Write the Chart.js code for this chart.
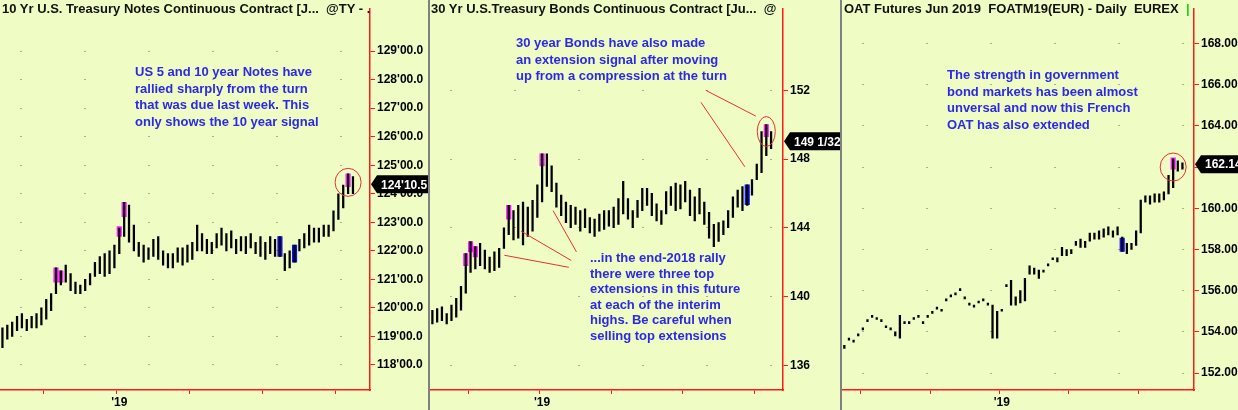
<!DOCTYPE html>
<html>
<head>
<meta charset="utf-8">
<script src="https://cdn.jsdelivr.net/npm/chart.js@4.4.1/dist/chart.umd.min.js"></script>
<style>
  body { margin: 0; background: #808080; width: 1238px; height: 410px; overflow: hidden; position: relative; font-family: "Liberation Sans", Arial, sans-serif; }
  .panel { position: absolute; top: 0; height: 410px; background: #effcc4; }
  .title { position: absolute; top: 1px; left: 2px; font-weight: bold; font-size: 13px; color: #111; white-space: nowrap; }
  .note { position: absolute; color: #2a2ae6; font-weight: bold; font-size: 13px; line-height: 16.5px; white-space: nowrap; }
</style>
</head>
<body>
<div class="panel" style="left:0;width:428px"><canvas id="c1"></canvas>
  <div class="title">10 Yr U.S. Treasury Notes Continuous Contract [J...&nbsp; @TY - .</div>
  <div class="note" style="left:135px;top:64px">US 5 and 10 year Notes have<br>rallied sharply from the turn<br>that was due last week. This<br>only shows the 10 year signal</div>
</div>
<div class="panel" style="left:430px;width:410px"><canvas id="c2"></canvas>
  <div class="title" style="left:1px">30 Yr U.S.Treasury Bonds Continuous Contract [Ju...&nbsp; @</div>
  <div class="note" style="left:86px;top:35px">30 year Bonds have also made<br>an extension signal after moving<br>up from a compression at the turn</div>
  <div class="note" style="left:160px;top:250px;line-height:15.5px">...in the end-2018 rally<br>there were three top<br>extensions in this future<br>at each of the interim<br>highs. Be careful when<br>selling top extensions</div>
</div>
<div class="panel" style="left:842px;width:396px"><canvas id="c3"></canvas>
  <div class="title">OAT Futures Jun 2019&nbsp; FOATM19(EUR) - Daily&nbsp; EUREX&nbsp; <span style="color:#2c2">|</span></div>
  <div class="note" style="left:105px;top:67px">The strength in government<br>bond markets has been almost<br>unversal and now this French<br>OAT has also extended</div>
</div>
<script>
// 10 yr notes: high / low per bar
const tyHigh = [119.3,119.4,119.5,119.7,119.8,119.6,119.7,119.8,120.0,120.3,120.5,121.4,121.3,121.5,121.2,120.9,120.8,121.0,121.2,121.6,121.8,121.9,122.0,122.2,122.8,123.7,123.6,122.9,122.3,122.2,122.1,122.4,122.5,122.0,121.9,121.9,122.1,122.1,122.2,122.3,122.9,122.6,122.4,122.3,122.6,122.8,122.6,122.7,122.4,122.5,122.5,122.6,122.3,122.5,122.3,122.5,122.4,122.5,121.9,122.0,122.2,122.4,122.6,122.9,122.8,122.8,122.9,122.9,123.4,124.0,124.3,124.7,124.6];
const tyLow  = [118.6,118.9,119.0,119.2,119.3,119.2,119.3,119.3,119.4,119.6,119.9,120.5,120.8,120.9,120.6,120.5,120.5,120.6,120.8,121.1,121.2,121.1,121.2,121.4,121.9,122.5,122.3,122.0,121.8,121.6,121.7,121.8,121.7,121.5,121.4,121.4,121.6,121.5,121.6,121.7,122.0,122.0,121.9,121.9,122.1,122.2,122.0,122.1,121.9,122.0,121.9,122.1,121.9,121.8,121.7,121.9,121.8,121.8,121.3,121.4,121.6,122.0,122.1,122.2,122.3,122.3,122.5,122.5,122.7,123.1,123.5,124.0,124.0];
const tySignals = { 11: [120.9,121.4,"pink"], 12: [120.9,121.3,"pink"], 24: [122.5,122.85,"pink"], 25: [123.2,123.7,"pink"], 57: [121.8,122.5,"blue"], 60: [121.6,122.2,"blue"], 71: [124.25,124.7,"pink"] };
const tyLast = 124.33;
const tyTicks = [118,119,120,121,122,123,124,125,126,127,128,129];

// 30 yr bonds
const usHigh = [139.2,139.3,139.4,139.0,139.5,139.9,140.6,142.5,143.2,142.9,143.1,142.7,142.3,142.6,142.8,144.0,145.3,145.0,145.3,145.5,145.2,145.6,146.5,148.3,148.3,147.6,146.6,145.9,145.5,145.3,145.2,145.0,145.1,144.6,144.5,144.8,145.0,145.0,145.2,145.7,146.7,145.7,145.0,145.6,146.3,146.3,146.0,145.4,145.0,146.1,146.4,146.6,146.5,146.7,146.2,145.8,146.3,145.5,144.9,144.2,144.3,144.4,145.0,145.8,146.2,146.4,146.5,146.8,147.7,149.6,150.0,149.6];
const usLow  = [138.4,138.5,138.6,138.4,138.6,138.8,139.2,140.2,141.4,141.6,141.8,141.6,141.4,141.5,141.7,142.8,143.6,143.3,143.4,143.0,143.5,143.8,144.6,145.5,146.4,146.1,145.2,144.7,144.3,144.0,144.2,143.8,144.0,143.7,143.5,143.8,143.9,144.1,144.0,144.2,144.8,144.5,144.0,144.6,145.0,145.3,144.7,144.4,144.2,144.8,145.3,145.0,145.1,145.5,144.7,144.4,144.8,144.2,143.4,142.9,143.2,143.6,144.0,144.6,145.2,145.0,145.3,145.9,146.8,147.2,148.2,148.6];
const usSignals = { 7: [141.8,142.5,"pink"], 8: [142.6,143.2,"pink"], 9: [142.3,142.9,"pink"], 16: [144.5,145.3,"pink"], 23: [147.6,148.3,"pink"], 66: [145.35,146.5,"blue"], 70: [149.3,150.0,"pink"] };
const usLast = 149.03;
const usTicks = [136,140,144,148,152];

// OAT futures
const oatHigh = [153.35,153.7,153.6,153.9,154.2,154.6,154.8,154.7,154.6,154.3,154.2,154.0,154.8,154.5,154.5,154.7,154.8,154.5,154.8,155.0,155.2,155.1,155.6,155.8,155.9,156.1,155.7,155.4,155.3,155.5,155.6,155.4,155.3,155.0,155.1,156.3,156.5,155.7,156.0,156.6,157.2,157.1,157.0,157.0,157.3,157.6,157.6,158.1,158.0,158.0,158.4,158.5,158.4,158.8,158.8,158.9,159.0,159.1,158.9,159.1,158.6,158.3,158.3,158.9,160.4,160.6,160.6,160.7,160.7,160.8,161.6,162.4,162.3,162.2];
const oatLow  = [153.2,153.6,153.5,153.8,154.1,154.5,154.7,154.6,154.5,154.2,154.1,153.8,153.7,154.4,154.4,154.6,154.7,154.4,154.7,154.9,155.1,155.0,155.5,155.7,155.8,156.0,155.6,155.3,155.2,155.4,155.5,155.3,153.7,153.7,155.0,156.2,155.3,155.3,155.4,155.5,156.8,156.8,156.6,156.9,157.2,157.5,157.4,157.7,157.7,157.8,158.2,158.1,158.1,158.4,158.5,158.5,158.6,158.7,158.6,158.7,157.9,157.8,158.0,158.2,158.8,160.3,160.2,160.3,160.3,160.4,160.7,161.0,161.8,161.9];
const oatSignals = { 60: [157.9,158.55,"blue"], 71: [161.9,162.45,"pink"] };
const oatLast = 162.14;
const oatTicks = [152,154,156,158,160,162,164,166,168];

function makeLabels(n, yearIdx) {
  const out = [];
  for (let i = 0; i < n; i++) out.push(i === yearIdx ? "'19" : "");
  return out;
}

const decorPlugin = {
  id: "decor",
  afterDatasetsDraw(chart, args, opts) {
    const ctx = chart.ctx, xs = chart.scales.x, ys = chart.scales.y;
    ctx.save();
    ctx.strokeStyle = "#e83030";
    ctx.lineWidth = 1;
    (opts.lines || []).forEach(function (l) {
      ctx.beginPath();
      ctx.moveTo(xs.getPixelForValue(l[0]), ys.getPixelForValue(l[1]));
      ctx.lineTo(xs.getPixelForValue(l[2]), ys.getPixelForValue(l[3]));
      ctx.stroke();
    });
    (opts.circles || []).forEach(function (c) {
      ctx.beginPath();
      ctx.ellipse(xs.getPixelForValue(c[0]), ys.getPixelForValue(c[1]), c[2], c[3], 0, 0, Math.PI * 2);
      ctx.stroke();
    });
    // last price tag
    const y = ys.getPixelForValue(opts.last);
    const x0 = chart.chartArea.right + 1;
    ctx.font = "bold 12px 'Liberation Sans', Arial";
    const w = ctx.measureText(opts.lastText).width + 8;
    ctx.fillStyle = "#000";
    ctx.beginPath();
    ctx.moveTo(x0, y);
    ctx.lineTo(x0 + 6, y - 9);
    ctx.lineTo(x0 + 6 + w, y - 9);
    ctx.lineTo(x0 + 6 + w, y + 9);
    ctx.lineTo(x0 + 6, y + 9);
    ctx.closePath();
    ctx.fill();
    ctx.fillStyle = "#fff";
    ctx.textBaseline = "middle";
    ctx.fillText(opts.lastText, x0 + 10, y + 1);
    ctx.restore();
  },
};

function drawPanel(id, cfg) {
  const canvas = document.getElementById(id);
  canvas.width = cfg.width;
  canvas.height = 410;
  const ranges = cfg.high.map((h, i) => [cfg.low[i], h]);
  const sig = cfg.high.map((h, i) => (cfg.signals[i] ? [cfg.signals[i][0], cfg.signals[i][1]] : null));
  const sigColors = cfg.high.map((h, i) => (cfg.signals[i] ? (cfg.signals[i][2] === "pink" ? "#ff1cff" : "#1010ff") : "#000"));
  return new Chart(canvas, {
    type: "bar",
    data: {
      labels: makeLabels(cfg.slots, cfg.yearIdx),
      datasets: [
        { data: ranges, backgroundColor: "#000", barThickness: 1.6, grouped: false, minBarLength: 1.5 },
        { data: sig, backgroundColor: sigColors, barThickness: 4.5, grouped: false },
      ],
    },
    plugins: [decorPlugin],
    options: {
      responsive: false,
      animation: false,
      layout: { padding: 0 },
      plugins: {
        legend: { display: false },
        tooltip: { enabled: false },
        decor: { lines: cfg.lines, circles: cfg.circles, last: cfg.last, lastText: cfg.lastText },
      },
      scales: {
        x: {
          type: "category",
          afterFit: (s) => { s.height = 20; },
          border: { color: "#ff1a1a", width: 1.5 },
          grid: {
            drawOnChartArea: false,
            tickLength: 4,
            color: (c) => (c.index % 15 === cfg.yearIdx % 15 ? "#ff1a1a" : "rgba(0,0,0,0)"),
          },
          ticks: { autoSkip: false, maxRotation: 0, padding: 1, color: "#000", font: { family: "'Liberation Sans', Arial", size: 12, weight: "bold" } },
        },
        y: {
          position: "right",
          min: cfg.min,
          max: cfg.max,
          afterFit: (s) => { s.width = cfg.axisWidth; },
          afterBuildTicks: (s) => { s.ticks = cfg.ticks.map((v) => ({ value: v })); },
          border: { color: "#ff1a1a", width: 1.5, dash: [2, 62], dashOffset: -20 },
          grid: { color: "rgba(140,140,140,0.7)", tickColor: "#ff1a1a", tickLength: 5 },
          ticks: { padding: 2, color: "#000", callback: cfg.fmt, font: { family: "'Liberation Sans', Arial", size: 12, weight: "bold" } },
        },
      },
    },
  });
}

drawPanel("c1", {
  width: 428, slots: 76, yearIdx: 24, high: tyHigh, low: tyLow, signals: tySignals,
  min: 117.12, max: 130.47, axisWidth: 58, ticks: tyTicks,
  fmt: (v) => v + "'00.0", last: tyLast, lastText: "124'10.5",
  lines: [], circles: [[71, 124.4, 13, 14]],
});
drawPanel("c2", {
  width: 410, slots: 74, yearIdx: 23, high: usHigh, low: usLow, signals: usSignals,
  min: 134.56, max: 156.72, axisWidth: 57, ticks: usTicks,
  fmt: (v) => String(v), last: usLast, lastText: "149 1/32",
  lines: [[57.3, 152.0, 67.8, 150.5], [56.3, 151.3, 65.5, 147.55], [15.1, 142.4, 28.6, 141.7], [18.6, 143.8, 29.1, 142.1], [25.3, 145.0, 30.2, 142.6]],
  circles: [[70, 149.6, 9, 15]],
});
drawPanel("c3", {
  width: 396, slots: 76, yearIdx: 34, high: oatHigh, low: oatLow, signals: oatSignals,
  min: 151.18, max: 169.66, axisWidth: 44, ticks: oatTicks,
  fmt: (v) => v.toFixed(2), last: oatLast, lastText: "162.14",
  lines: [], circles: [[71, 162.0, 13, 14]],
});
</script>
</body>
</html>
